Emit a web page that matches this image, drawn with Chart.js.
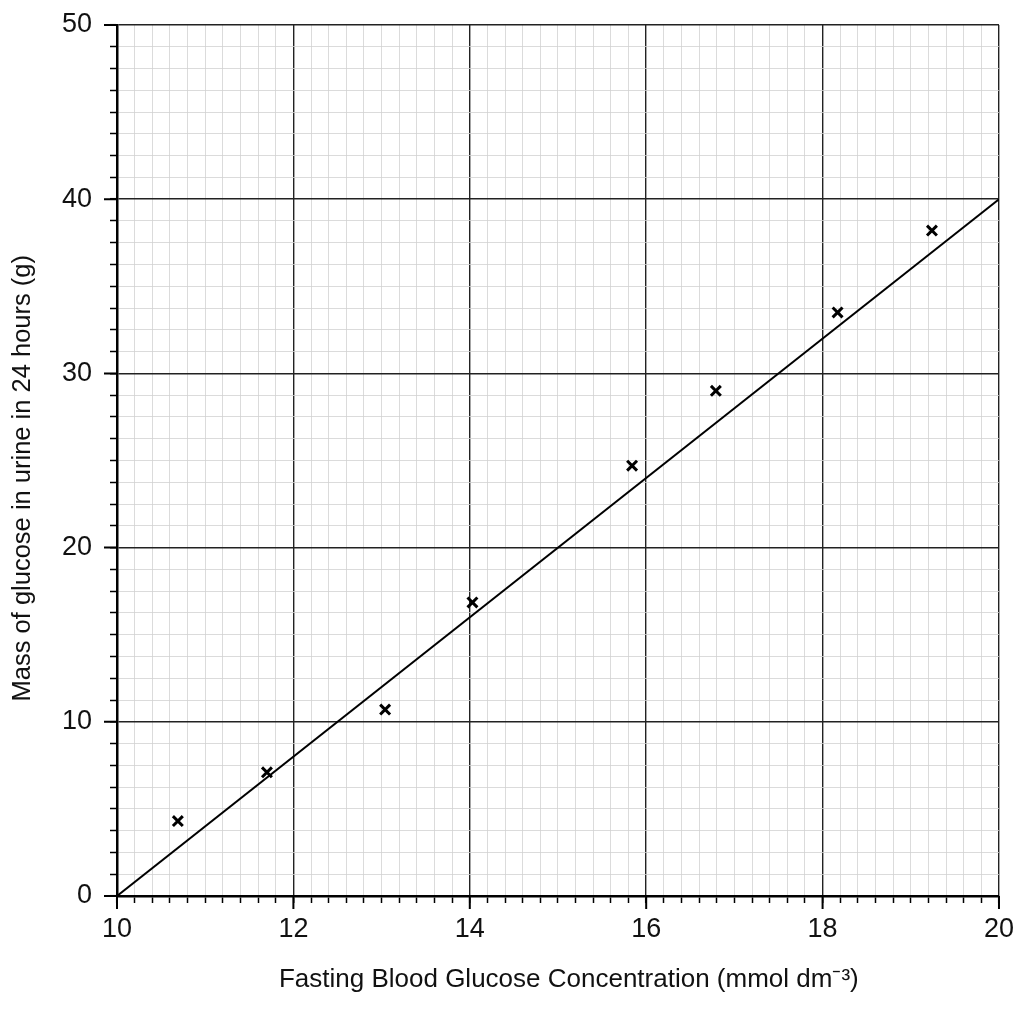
<!DOCTYPE html>
<html>
<head>
<meta charset="utf-8">
<script src="https://cdn.jsdelivr.net/npm/chart.js@4/dist/chart.umd.min.js"></script>
<style>
  html, body { margin: 0; padding: 0; background: #fff; }
  #wrap { width: 1024px; height: 1024px; }
</style>
</head>
<body>
<div id="wrap"><canvas id="graph"></canvas></div>
<script>
// measured points
var glucoseConc = [10.69, 11.70, 13.04, 14.03, 15.84, 16.79, 18.17, 19.24];
var urineMass   = [4.3, 7.1, 10.7, 16.85, 24.7, 29.0, 33.5, 38.2];

// line of best fit end points
var fitX = [10, 20];
var fitY = [0, 40];

var xLabels = [10, 12, 14, 16, 18, 20];
var yLabels = [0, 10, 20, 30, 40, 50];

var pts = [];
for (var i = 0; i < glucoseConc.length; i++) {
    pts.push({ x: glucoseConc[i], y: urineMass[i] });
}
var fit = [];
for (var j = 0; j < fitX.length; j++) {
    fit.push({ x: fitX[j], y: fitY[j] });
}

function isMajor(v, list) {
    for (var k = 0; k < list.length; k++) {
        if (Math.abs(v - list[k]) < 1e-6) return true;
    }
    return false;
}

var tickFont = { family: "'Liberation Sans Narrow', 'Liberation Sans', Arial, sans-serif", size: 27 };
var titleFont = { family: "'Liberation Sans', Arial, sans-serif", size: 26 };

// longer tick marks at the labelled values
var majorTicks = {
    id: 'majorTicks',
    afterDraw: function (chart) {
        var c = chart.ctx;
        var xs = chart.scales.x, ys = chart.scales.y;
        c.save();
        c.strokeStyle = '#000';
        c.lineWidth = 2;
        c.beginPath();
        xLabels.forEach(function (v) {
            var px = xs.getPixelForValue(v);
            c.moveTo(px, ys.bottom);
            c.lineTo(px, ys.bottom + 13);
        });
        yLabels.forEach(function (v) {
            var py = ys.getPixelForValue(v);
            c.moveTo(xs.left, py);
            c.lineTo(xs.left - 13, py);
        });
        c.stroke();
        c.restore();
    }
};

new Chart(document.getElementById('graph'), {
    type: 'scatter',
    data: {
        datasets: [{
            data: pts,
            pointStyle: 'crossRot',
            pointRadius: 7,
            pointBorderWidth: 3,
            borderColor: '#000',
            backgroundColor: '#000',
            order: 1
        }, {
            type: 'line',
            data: fit,
            borderColor: '#000',
            borderWidth: 2,
            pointRadius: 0,
            fill: false,
            order: 2
        }]
    },
    options: {
        responsive: true,
        maintainAspectRatio: false,
        animation: false,
        layout: { padding: { top: 25, right: 25, bottom: 0, left: 0 } },
        plugins: {
            legend: { display: false },
            tooltip: { enabled: false }
        },
        scales: {
            x: {
                type: 'linear',
                min: 10,
                max: 20,
                afterFit: function (s) { s.height = 128; },
                border: { color: '#000', width: 2.5 },
                grid: {
                    color: function (ctx) {
                        return isMajor(ctx.tick.value, xLabels) ? '#222' : '#d2d2d2';
                    },
                    lineWidth: function (ctx) {
                        return isMajor(ctx.tick.value, xLabels) ? 1.4 : 0.8;
                    },
                    tickColor: '#000',
                    tickLength: 7,
                    tickWidth: 1.5
                },
                ticks: {
                    stepSize: 0.2,
                    autoSkip: false,
                    maxRotation: 0,
                    color: '#111',
                    font: tickFont,
                    padding: 10,
                    callback: function (v) {
                        return isMajor(v, xLabels) ? String(Math.round(v)) : '';
                    }
                },
                title: {
                    display: true,
                    text: '\u00A0\u00A0\u00A0Fasting Blood Glucose Concentration (mmol dm\u207B\u00B3)',
                    color: '#111',
                    font: titleFont,
                    padding: { top: 0, bottom: 29 }
                }
            },
            y: {
                type: 'linear',
                min: 0,
                max: 50,
                afterFit: function (s) {
                    s.width = 117;
                    s.paddingTop = 0;
                    s.paddingBottom = 0;
                },
                border: { color: '#000', width: 2.5 },
                grid: {
                    color: function (ctx) {
                        return isMajor(ctx.tick.value, yLabels) ? '#222' : '#d2d2d2';
                    },
                    lineWidth: function (ctx) {
                        return isMajor(ctx.tick.value, yLabels) ? 1.4 : 0.8;
                    },
                    tickColor: '#000',
                    tickLength: 7,
                    tickWidth: 1.5
                },
                ticks: {
                    stepSize: 1.25,
                    autoSkip: false,
                    color: '#111',
                    font: tickFont,
                    padding: 18,
                    callback: function (v) {
                        return isMajor(v, yLabels) ? String(Math.round(v)) : '';
                    }
                },
                title: {
                    display: true,
                    text: 'Mass of glucose in urine in 24 hours (g)\u00A0\u00A0\u00A0\u00A0\u00A0',
                    color: '#111',
                    font: { family: "'Liberation Sans', Arial, sans-serif", size: 25.5 },
                    padding: { top: 8, bottom: 0 }
                }
            }
        }
    },
    plugins: [majorTicks]
});
</script>
</body>
</html>
